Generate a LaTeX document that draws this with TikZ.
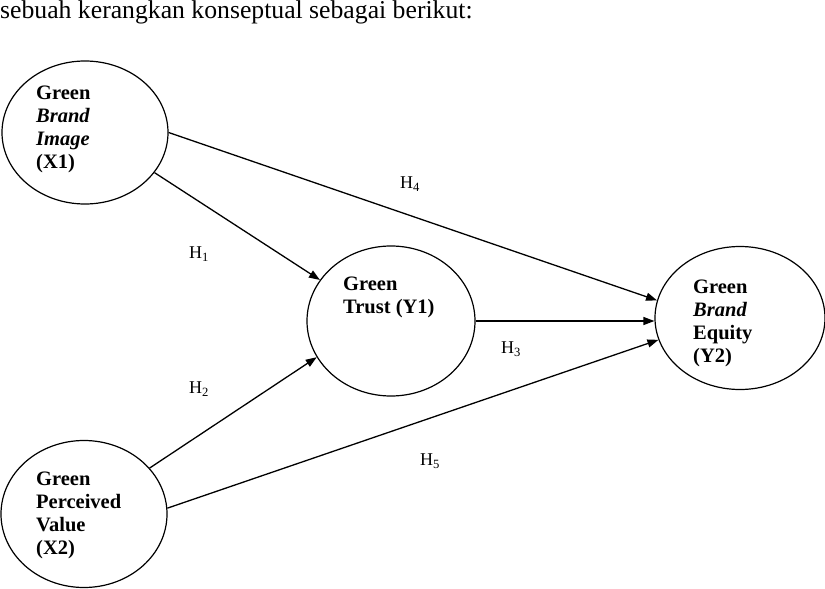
\documentclass[tikz,border=0pt]{standalone}
\usepackage{fontspec}
\setmainfont{Liberation Serif}
\usetikzlibrary{shapes.geometric,arrows.meta}
\begin{document}
\begin{tikzpicture}[x=1pt,y=-1pt,
  construct/.style={ellipse,draw,line width=1.2pt,inner sep=0pt},
  path/.style={line width=1.3pt,-{Triangle[length=11pt,width=8pt]}},
  lbl/.style={font=\fontsize{18}{20}\selectfont},
  ctext/.style={anchor=north west,align=left,inner sep=0pt,font=\fontsize{20.5}{23}\selectfont\bfseries}]
\useasboundingbox (0,0) rectangle (825,589);
\node[anchor=base west,inner sep=0pt,font=\fontsize{25.7}{28}\selectfont] (title) at (0,19) {sebuah kerangkan konseptual sebagai berikut:};
\node[construct,minimum width=166pt,minimum height=143pt] (x1) at (85,132.5) {};
\node[construct,minimum width=168pt,minimum height=150pt] (y1) at (391,321) {};
\node[construct,minimum width=170pt,minimum height=143pt] (y2) at (740,318) {};
\node[construct,minimum width=166pt,minimum height=147pt] (x2) at (84,514) {};
\node[ctext] (tx1) at (36,85.5) {Green\\\textit{Brand}\\\textit{Image}\\(X1)};
\node[ctext] (ty1) at (343,276.5) {Green\\Trust (Y1)};
\node[ctext] (ty2) at (693,279.5) {Green\\\textit{Brand}\\Equity\\(Y2)};
\node[ctext] (tx2) at (36,471.5) {Green\\Perceived\\Value\\(X2)};
\draw[path] (x1.0) -- (y2.168.9);
\draw[path] (x1.-30) -- (y1.150.6);
\draw[path] (y1.east) -- (y1.east -| y2.west);
\draw[path] (x2.35.2) -- (y1.206.6);
\draw[path] (x2.4.8) -- (y2.195.4);
\node[lbl] (h4) at (410,184) {H\textsubscript{4}};
\node[lbl] (h1) at (199,254) {H\textsubscript{1}};
\node[lbl] (h3) at (511,349) {H\textsubscript{3}};
\node[lbl] (h2) at (199,389) {H\textsubscript{2}};
\node[lbl] (h5) at (430,461) {H\textsubscript{5}};
\end{tikzpicture}
\end{document}
